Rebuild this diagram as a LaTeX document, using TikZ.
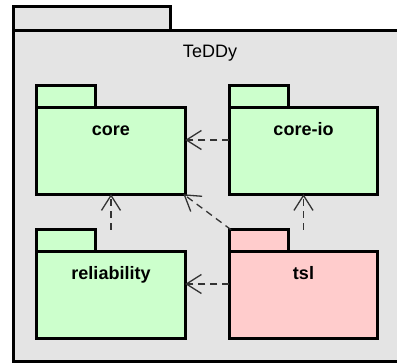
\documentclass[tikz,border=0pt]{standalone}
\usepackage{fontspec}
\setmainfont{Liberation Sans}
\usepackage{tikz}
\usetikzlibrary{arrows.meta,calc,positioning}
\definecolor{frame}{RGB}{228,228,228}
\definecolor{ok}{RGB}{204,255,204}
\definecolor{bad}{RGB}{255,204,204}

\begin{document}
\begin{tikzpicture}[x=1pt,y=-1pt,
  pkg/.style={minimum width=148pt,minimum height=108pt,inner sep=0pt},
  pkgline/.style={line width=3pt,line join=miter},
  pkgname/.style={anchor=base,font=\fontsize{18}{20}\selectfont\bfseries},
  dep/.style={dash pattern=on 7pt off 5pt,line width=1.3pt,black!80,
    -{Straight Barb[length=15pt,width=19pt,line width=1.3pt]}}]
  \clip (0,0) rectangle (397,363);
  % outer package TeDDy (right edge runs past the page)
  \node[minimum width=392pt,minimum height=354pt,inner sep=0pt] (teddy) at (210,184) {};
  \filldraw[pkgline,fill=frame] (teddy.north west) rectangle ++(157,24);
  \filldraw[pkgline,fill=frame] ($(teddy.north west)+(0,24)$) rectangle (teddy.south east);
  \node[anchor=base,font=\fontsize{18}{20}\selectfont] (teddyname) at ($(teddy.north)+(0,51)$) {TeDDy};
  % inner packages: name/text/x/y/colour
  \foreach \n/\t/\x/\y/\c in {core/core/111/140/ok, coreio/core-io/303.5/140/ok,
      reliability/reliability/111/284/ok, tsl/tsl/303.5/284/bad} {
    \node[pkg] (\n) at (\x,\y) {};
    \filldraw[pkgline,fill=\c] (\n.north west) rectangle ++(59,22);
    \filldraw[pkgline,fill=\c] ($(\n.north west)+(0,22)$) rectangle (\n.south east);
    \node[pkgname] (\n-name) at ($(\n.north)+(0,50)$) {\t};
  }
  % dependencies
  \draw[dep] (coreio) -- (core);
  \draw[dep] (reliability) -- (core);
  \draw[dep] (tsl) -- (core);
  \draw[dep] (tsl) -- (coreio);
  \draw[dep] (tsl) -- (reliability);
\end{tikzpicture}
\end{document}
